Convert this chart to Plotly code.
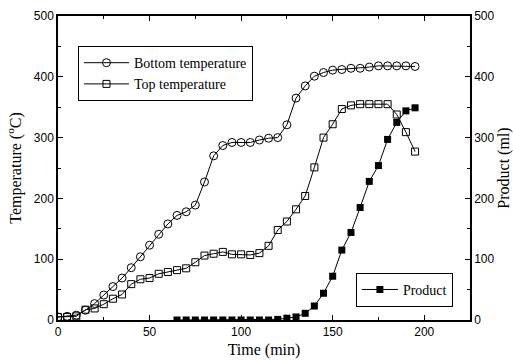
import plotly.graph_objects as go

time_bottom = [0, 5, 10, 15, 20, 25, 30, 35, 40, 45, 50, 55, 60, 65, 70, 75, 80, 85, 90, 95,
               100, 105, 110, 115, 120, 125, 130, 135, 140, 145, 150, 155, 160, 165, 170, 175, 180, 185, 190, 195]
bottom_temp = [5, 6, 8, 16, 27, 41, 55, 69, 86, 104, 123, 141, 158, 172, 178, 189, 227, 270, 287, 292,
               292, 292, 296, 299, 300, 321, 365, 385, 401, 407, 411, 412, 414, 414, 416, 418, 418, 418, 418, 417]

time_top = time_bottom
top_temp = [5, 5, 6, 17, 19, 26, 35, 42, 59, 67, 69, 76, 79, 82, 85, 95, 106, 109, 112, 108,
            108, 107, 110, 122, 148, 162, 182, 204, 251, 300, 322, 347, 353, 355, 355, 355, 355, 338, 309, 277]

time_product = [65, 70, 75, 80, 85, 90, 95, 100, 105, 110, 115, 120, 125, 130, 135, 140, 145, 150,
                155, 160, 165, 170, 175, 180, 185, 190, 195]
product_ml = [0, 0, 0, 0, 0, 0, 0, 0, 0, 0, 0, 1, 3, 5, 11, 23, 44, 72,
              115, 144, 185, 228, 254, 297, 325, 344, 349]

x_ticks = [0, 50, 100, 150, 200]
y_ticks = [0, 100, 200, 300, 400, 500]

serif = "Liberation Serif"
sans = "Liberation Sans"

fig = go.Figure()
fig.add_trace(go.Scatter(
    x=time_bottom, y=bottom_temp, mode="lines+markers", name="Bottom temperature",
    line=dict(color="black", width=1),
    marker=dict(symbol="circle-open", size=8, color="black", line=dict(width=1)),
    legend="legend"))
fig.add_trace(go.Scatter(
    x=time_top, y=top_temp, mode="lines+markers", name="Top temperature",
    line=dict(color="black", width=1),
    marker=dict(symbol="square-open", size=7, color="black", line=dict(width=1)),
    legend="legend"))
fig.add_trace(go.Scatter(
    x=time_product, y=product_ml, mode="lines+markers", name="Product",
    line=dict(color="black", width=1),
    marker=dict(symbol="square", size=7, color="black"),
    yaxis="y2", legend="legend2"))

axis_common = dict(
    showline=True, linecolor="black", linewidth=1.5,
    ticks="inside", ticklen=5, tickwidth=1, tickcolor="black",
    showgrid=False, zeroline=False, automargin=False,
    tickfont=dict(family=sans, size=12, color="black"),
)

fig.update_layout(
    width=513, height=362,
    margin=dict(l=58, r=43, t=16, b=42),
    paper_bgcolor="white", plot_bgcolor="white",
    xaxis=dict(
        range=[0, 225], tickvals=x_ticks, mirror="ticks",
        minor=dict(dtick=25, tick0=0, ticks="inside", ticklen=3, tickcolor="black"),
        title=dict(text="Time (min)", font=dict(family=serif, size=16, color="black"), standoff=6),
        **axis_common),
    yaxis=dict(
        range=[0, 500], tickvals=y_ticks,
        minor=dict(dtick=50, tick0=0, ticks="inside", ticklen=3, tickcolor="black"),
        title=dict(text="Temperature (<sup>o</sup>C)", font=dict(family=serif, size=16, color="black"), standoff=8),
        **axis_common),
    yaxis2=dict(
        range=[0, 500], tickvals=y_ticks, overlaying="y", side="right",
        minor=dict(dtick=50, tick0=0, ticks="inside", ticklen=3, tickcolor="black"),
        title=dict(text="Product (ml)", font=dict(family=serif, size=16, color="black"), standoff=12),
        **axis_common),
    legend=dict(
        x=0.0485, y=0.901, xanchor="left", yanchor="top",
        bgcolor="white", bordercolor="black", borderwidth=1,
        font=dict(family=serif, size=14, color="black"),
        itemwidth=45, tracegroupgap=0),
    legend2=dict(
        x=0.723, y=0.155, xanchor="left", yanchor="top",
        bgcolor="white", bordercolor="black", borderwidth=1,
        font=dict(family=serif, size=14, color="black"),
        itemwidth=36),
    showlegend=True,
)

fig.write_html("out.html", config={"displayModeBar": False},
               post_script="document.body.style.margin='0';document.body.style.padding='0';")
